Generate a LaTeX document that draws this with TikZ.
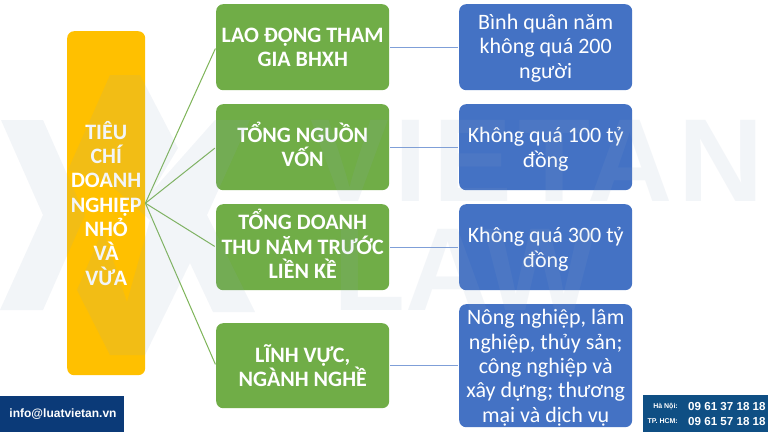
\documentclass[tikz,border=0pt]{standalone}
\usepackage{fontspec}
\setmainfont{Carlito}
\newfontfamily\narrowf{Liberation Sans}
\definecolor{ygold}{HTML}{FFC000}
\definecolor{vgreen}{HTML}{70AD47}
\definecolor{vblue}{HTML}{4472C4}
\definecolor{lblue}{HTML}{7F9FD8}
\definecolor{navy}{HTML}{0B3A78}
\definecolor{teal2}{HTML}{0F4F84}
\definecolor{wm}{HTML}{8FA6C4}
\tikzset{
 box/.style={rounded corners=7pt,draw=none,inner sep=0pt,anchor=north west},
 goldbox/.style={box,fill=ygold,minimum width=78pt,minimum height=344pt},
 greenbox/.style={box,fill=vgreen,minimum width=173pt,minimum height=86pt},
 bluebox/.style={box,fill=vblue,minimum width=173pt,minimum height=86pt},
 boxtext/.style={text=white,align=center,inner sep=0pt},
 goldtext/.style={boxtext,font=\bfseries\fontsize{22}{24.3}\selectfont},
 greentext/.style={boxtext,font=\bfseries\fontsize{22}{24.5}\selectfont},
 bluetext/.style={boxtext,font=\fontsize{22}{24.3}\selectfont},
 glink/.style={draw=vgreen!90!white,line width=1pt,shorten >=1.5pt},
 blink/.style={draw=lblue,line width=1.1pt,shorten >=1.5pt,shorten <=1pt},
 wmark/.style={fill=wm,opacity=0.11,draw=none},
 wtext/.style={text=wm,text opacity=0.11,font=\narrowf\bfseries\fontsize{118}{118}\selectfont,inner sep=0pt,anchor=west}
}
\begin{document}
\begin{tikzpicture}[x=1pt,y=-1pt]
\useasboundingbox (0,0) rectangle (768,432);
\fill[white] (0,0) rectangle (768,432);
\node[goldbox] (main) at (67,31) {};
\node[greenbox] (g1) at (216,4) {};
\node[greenbox] (g2) at (216,104) {};
\node[greenbox] (g3) at (216,204) {};
\node[greenbox,minimum height=85pt] (g4) at (216,323) {};
\node[bluebox] (b1) at (459,4) {};
\node[bluebox] (b2) at (459,104) {};
\node[bluebox] (b3) at (459,204) {};
\node[bluebox,minimum height=123pt] (b4) at (459,304) {};
\foreach \n in {g1,g2,g3,g4} \draw[glink] (main.east) -- (\n.west);
\foreach \n in {1,2,3,4} \draw[blink] (g\n.east) -- (b\n.west);
\node[goldtext] (maint) at (main.center) {TIÊU\\CHÍ\\DOANH\\NGHIỆP\\NHỎ\\VÀ\\VỪA};
\node[greentext] (g1t) at (g1.center) {LAO ĐỘNG THAM\\GIA BHXH};
\node[greentext,yshift=3pt] (g2t) at (g2.center) {TỔNG NGUỒN\\VỐN};
\node[greentext,yshift=3pt] (g3t) at (g3.center) {TỔNG DOANH\\THU NĂM TRƯỚC\\LIỀN KỀ};
\node[greentext] (g4t) at (g4.center) {LĨNH VỰC,\\NGÀNH NGHỀ};
\node[bluetext,yshift=-1pt] (b1t) at (b1.center) {Bình quân năm\\không quá 200\\người};
\node[bluetext,yshift=-2pt] (b2t) at (b2.center) {Không quá 100 tỷ\\đồng};
\node[bluetext,yshift=-2pt] (b3t) at (b3.center) {Không quá 300 tỷ\\đồng};
\node[bluetext,yshift=-2pt] (b4t) at (b4.center) {Nông nghiệp, lâm\\nghiệp, thủy sản;\\công nghiệp và\\xây dựng; thương\\mại và dịch vụ};
% watermark
\fill[wmark] (1,120) -- (43,120) -- (85,215) -- (43,310) -- (0,310) -- (43,215) -- cycle
  (110,75) -- (140,75) -- (178,148) -- (153,190) -- (215,120) -- (250,120) -- (207,215) -- (255,312) -- (213,312) -- (190,263) -- (145,355) -- (110,355) -- (77,290) -- (103,230) -- (127,302) -- (150,220) -- (105,180) -- (68,170) -- cycle;
\node[wtext] (wm1) at (310,161) {\addfontfeature{LetterSpace=5}VIETAN};
\node[wtext] (wm2) at (333,270) {LAW};
% footer
\fill[navy] (0,396) rectangle (124,432);
\node[text=white,inner sep=0pt] (mail) at (63,414) {\narrowf\bfseries\fontsize{12}{14}\selectfont info@luatvietan.vn};
\fill[teal2] (643,395) rectangle (768,432);
\node[text=white,inner sep=0pt,anchor=east] (hn) at (678,407) {\narrowf\bfseries\fontsize{7}{8}\selectfont Hà Nội:};
\node[text=white,inner sep=0pt,anchor=east] (hcm) at (678,421) {\narrowf\bfseries\fontsize{7}{8}\selectfont TP. HCM:};
\node[text=white,inner sep=0pt,anchor=west] (p1) at (688,407) {\narrowf\bfseries\fontsize{11.6}{14}\selectfont 09 61 37 18 18};
\node[text=white,inner sep=0pt,anchor=west] (p2) at (688,421) {\narrowf\bfseries\fontsize{11.6}{14}\selectfont 09 61 57 18 18};
\end{tikzpicture}
\end{document}
